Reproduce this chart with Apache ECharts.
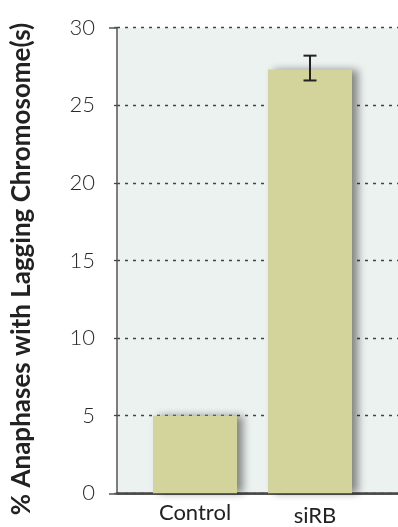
<!DOCTYPE html>
<html>
<head>
<meta charset="utf-8">
<script src="https://cdn.jsdelivr.net/npm/echarts@6/dist/echarts.min.js"></script>
<style>
  html, body { margin: 0; padding: 0; background: #ffffff; }
  #chart { width: 398px; height: 527px; }
</style>
</head>
<body>
<div id="chart"></div>
<script>
// Percentage of anaphases showing lagging chromosomes
const categories = ['Control', 'siRB'];
const percentValues = [5.0, 27.3];
const errorLow = [null, 26.6];
const errorHigh = [null, 28.2];
const yMin = 0;
const yMax = 30;
const yStep = 5;
const yTitle = '% Anaphases with Lagging Chromosome(s)';

const FONT = 'Lato, "Open Sans", sans-serif';
const TOP = 27.7;
const BOTTOM = 33.7;

const errorData = categories
  .map((c, i) => [i, errorLow[i], errorHigh[i]])
  .filter(d => d[1] != null && d[2] != null);

const chart = echarts.init(document.getElementById('chart'), null, { renderer: 'canvas' });

chart.setOption({
  animation: false,
  backgroundColor: '#ffffff',
  grid: [
    // plotting panel with tinted background
    { left: 117, right: -2, top: TOP, bottom: BOTTOM, show: true, outerBoundsMode: 'none',
      backgroundColor: '#ecf2f0', borderWidth: 0 },
    // band area for the bars
    { left: 137.5, width: 230, top: TOP, bottom: BOTTOM, outerBoundsMode: 'none' }
  ],
  xAxis: [
    { gridIndex: 0, type: 'value', min: 0, max: 1, position: 'bottom',
      axisLine: { show: true, lineStyle: { color: '#555', width: 1.5 } },
      axisTick: { show: false }, axisLabel: { show: false }, splitLine: { show: false } },
    { gridIndex: 0, type: 'value', min: 0, max: 1, position: 'top',
      axisLine: { show: true, lineStyle: { color: '#484848', width: 2.5 } },
      axisTick: { show: false }, axisLabel: { show: false }, splitLine: { show: false } },
    { gridIndex: 1, type: 'category', data: categories, position: 'bottom',
      axisLine: { show: false }, axisTick: { show: false },
      axisLabel: {
        margin: 9,
        formatter: v => (v === 'siRB' ? '{b|' + v + '}' : '{a|' + v + '}'),
        rich: {
          a: { fontFamily: FONT, fontSize: 22, color: '#222' },
          b: { fontFamily: FONT, fontSize: 22, color: '#222', padding: [3, 0, 0, 10] }
        }
      } }
  ],
  yAxis: [
    { gridIndex: 0, type: 'value', min: yMin, max: yMax, interval: yStep, position: 'left',
      axisLine: { show: true, lineStyle: { color: '#555', width: 1.5 } },
      axisTick: { show: true, length: 8, lineStyle: { color: '#444', width: 1.3, type: [3, 5] } },
      axisLabel: { fontFamily: FONT, fontSize: 22, fontWeight: 300, color: '#2a2a2a', margin: 22 },
      splitLine: { show: true, lineStyle: { color: '#444', width: 1.3, type: [3, 5] } },
      name: yTitle, nameLocation: 'middle', nameGap: 82,
      nameTextStyle: { fontFamily: FONT, fontWeight: 'bold', fontSize: 26, color: '#222',
        padding: [0, 17, 0, 0] } },
    { gridIndex: 0, type: 'value', min: yMin, max: yMax, interval: yMax - yMin, position: 'left', offset: 0,
      axisLine: { show: false },
      axisTick: { show: true, length: 8, lineStyle: { color: '#555', width: 1.5 } },
      axisLabel: { show: false }, splitLine: { show: false } },
    { gridIndex: 1, type: 'value', min: yMin, max: yMax, show: false }
  ],
  series: [
    {
      type: 'bar',
      xAxisIndex: 2, yAxisIndex: 2,
      data: percentValues,
      barWidth: 84,
      itemStyle: {
        color: '#d3d49b',
        shadowColor: 'rgba(0,0,0,0.45)',
        shadowBlur: 8,
        shadowOffsetX: 6
      },
      z: 3
    },
    {
      type: 'custom',
      xAxisIndex: 2, yAxisIndex: 2,
      data: errorData,
      z: 4,
      renderItem: (params, api) => {
        const lo = api.coord([api.value(0), api.value(1)]);
        const hi = api.coord([api.value(0), api.value(2)]);
        const half = 6.5;
        const style = { stroke: '#222', lineWidth: 2 };
        return {
          type: 'group',
          children: [
            { type: 'line', shape: { x1: lo[0], y1: lo[1], x2: hi[0], y2: hi[1] }, style },
            { type: 'line', shape: { x1: hi[0] - half, y1: hi[1], x2: hi[0] + half, y2: hi[1] }, style },
            { type: 'line', shape: { x1: lo[0] - half, y1: lo[1], x2: lo[0] + half, y2: lo[1] }, style }
          ]
        };
      }
    }
  ]
});
</script>
</body>
</html>
